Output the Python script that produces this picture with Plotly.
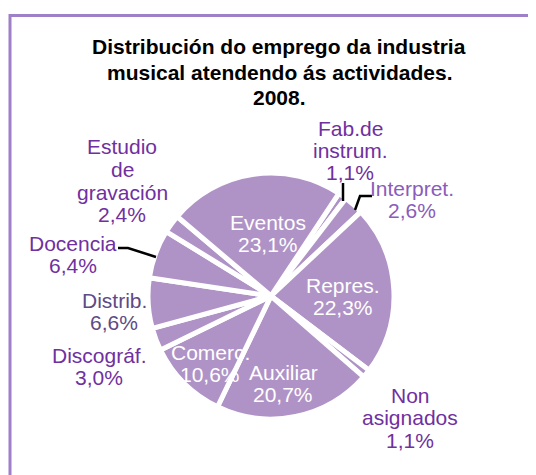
import plotly.graph_objects as go

W, H = 536, 475
OFF = 8  # page body margin of the html page

# ---- data ----
categories = ["Fab. de instrum.", "Interpret.", "Repres.", "Non asignados", "Auxiliar",
              "Comerc.", "Discográf.", "Distrib.", "Docencia", "Estudio de gravación", "Eventos"]
values = [1.1, 2.6, 22.3, 1.1, 20.7, 10.6, 3.0, 6.6, 6.4, 2.4, 23.1]
label_lines = [["Fab.de", "instrum."], ["Interpret."], ["Repres."], ["Non", "asignados"],
               ["Auxiliar"], ["Comerc."], ["Discográf."], ["Distrib."], ["Docencia"],
               ["Estudio", "de", "gravación"], ["Eventos"]]
title_lines = ["Distribución do emprego da industria", "musical atendendo ás actividades.", "2008."]

# ---- style / placement (page pixels) ----
label_pos = [(350, 128), (412, 188), (343, 285), (410, 395), (283, 372),
             (210, 352), (99, 355), (114, 300), (73, 243), (122, 147), (268, 222)]
label_color = ["#7030A0", "#8A5CBC", "white", "#7030A0", "white",
               "white", "#7030A0", "#5E4A86", "#7030A0", "#7030A0", "white"]
LINE = 22.5
FONT = "Liberation Sans, Arial, sans-serif"

def fx(px):
    return (px - OFF) / W

def fy(py):
    return 1 - (py - OFF) / H

fig = go.Figure()
cx, cy, r = 271, 296, 123
fig.add_trace(go.Pie(
    labels=categories, values=values, sort=False, direction="clockwise",
    rotation=33.5, textinfo="none", hoverinfo="label+percent",
    marker=dict(colors=["#B093C6"] * len(values), line=dict(color="white", width=5)),
    domain=dict(x=[fx(cx - r), fx(cx + r)], y=[fy(cy + r), fy(cy - r)]),
    showlegend=False,
))

annotations = []
def add_text(px, py, txt, color, size=21, bold=False):
    annotations.append(dict(
        x=fx(px), y=fy(py), xref="paper", yref="paper", showarrow=False,
        text=f"<b>{txt}</b>" if bold else txt, xanchor="center", yanchor="middle",
        font=dict(family=FONT, size=size, color=color)))

for i, (lines, v) in enumerate(zip(label_lines, values)):
    allines = lines + [f"{v:.1f}%".replace(".", ",")]
    px, py = label_pos[i]
    for j, t in enumerate(allines):
        add_text(px, py + j * LINE, t, label_color[i])

for j, t in enumerate(title_lines):
    add_text(279, 47 + j * 25, t, "black", size=21, bold=True)

shapes = [
    # chart border (cropped at right/bottom)
    dict(type="rect", xref="paper", yref="paper", x0=fx(10), x1=1.1, y0=-0.1, y1=fy(15.5),
         line=dict(color="#9F7FC8", width=3), fillcolor="rgba(0,0,0,0)"),
]
def leader(pts):
    path = "M " + " L ".join(f"{fx(x)},{fy(y)}" for x, y in pts)
    shapes.append(dict(type="path", xref="paper", yref="paper", path=path,
                       line=dict(color="black", width=2.5)))
leader([(343, 183), (343, 201)])
leader([(355, 210), (360, 196), (372, 196)])
leader([(118, 248), (128, 248), (156, 257)])

fig.update_layout(
    width=W, height=H, margin=dict(l=0, r=0, t=0, b=0),
    paper_bgcolor="white", plot_bgcolor="white",
    annotations=annotations, shapes=shapes,
)
fig.write_html("out.html")
